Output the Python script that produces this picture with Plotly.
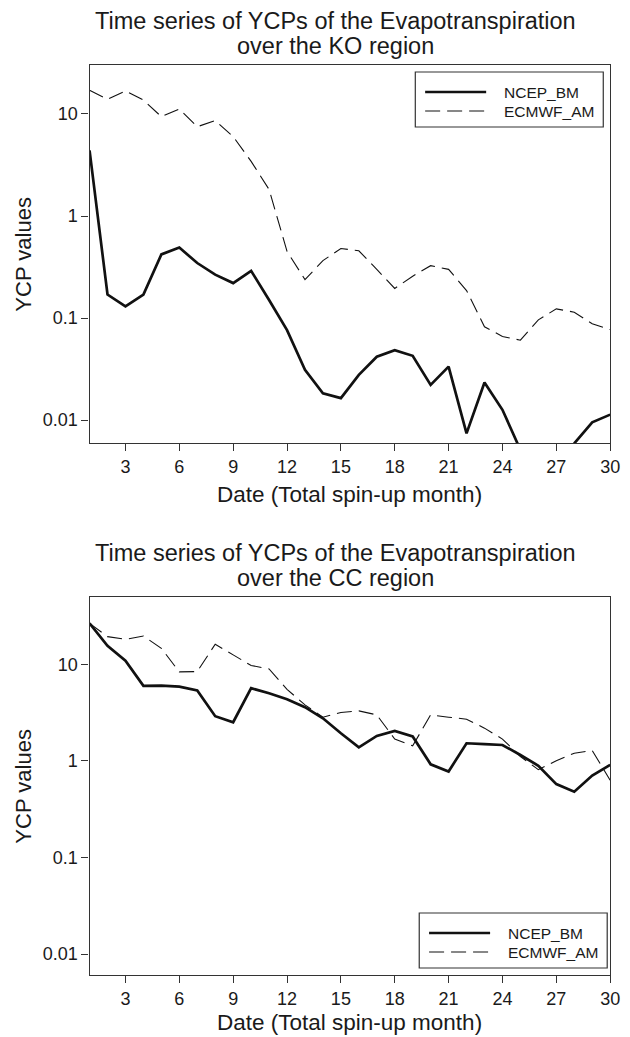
import plotly.graph_objects as go

months = list(range(1, 31))

ko_ncep = [4.4, 0.17, 0.13, 0.17, 0.42, 0.49, 0.346, 0.266, 0.22, 0.29,
           0.15, 0.076, 0.031, 0.0183, 0.0164, 0.0277, 0.0417, 0.0484, 0.0426, 0.0221,
           0.0334, 0.0074, 0.0233, 0.0126, 0.0051, 0.004, 0.004, 0.0059, 0.0095, 0.0113]
ko_ecmwf = [17.1, 13.9, 16.8, 13.7, 9.4, 11.2, 7.5, 8.6, 6.0, 3.43,
            1.82, 0.45, 0.238, 0.365, 0.48, 0.456, 0.30, 0.195, 0.257, 0.326,
            0.30, 0.186, 0.082, 0.066, 0.0606, 0.096, 0.123, 0.114, 0.088, 0.077]

cc_ncep = [26.5, 15.5, 10.9, 5.97, 6.0, 5.87, 5.35, 2.9, 2.51, 5.65,
           5.0, 4.35, 3.59, 2.76, 1.93, 1.38, 1.81, 2.04, 1.79, 0.92,
           0.776, 1.52, 1.49, 1.46, 1.15, 0.89, 0.574, 0.48, 0.705, 0.91]
cc_ecmwf = [26.5, 19.3, 18.1, 19.6, 14.6, 8.33, 8.4, 16.1, 12.5, 9.7,
            8.95, 5.5, 3.8, 2.83, 3.16, 3.29, 2.99, 1.68, 1.43, 2.99,
            2.83, 2.70, 2.18, 1.68, 1.11, 0.81, 1.0, 1.2, 1.28, 0.63]

series_names = ["NCEP_BM", "ECMWF_AM"]
x_ticks = [3, 6, 9, 12, 15, 18, 21, 24, 27, 30]
y_ticks = [0.01, 0.1, 1, 10]
y_ticktext = ["0.01", "0.1", "1", "10"]

titles = [["Time series of YCPs of the Evapotranspiration", "over the KO region"],
          ["Time series of YCPs of the Evapotranspiration", "over the CC region"]]
x_title = "Date (Total spin-up month)"
y_title = "YCP values"

W, H = 630, 1037
FONT = "Liberation Sans, Arial, Helvetica, sans-serif"
TXT = "#1a1a1a"
AX = "#333333"
LINE = "#111111"
SOLID = dict(color=LINE, width=2.7)
DASHED = dict(color=LINE, width=1.1, dash="15px,7px")


def px(x):
    return x / W


def py(y):
    return 1 - y / H


# frame geometry (pixels)
FL, FR = 91, 620
panels = [
    dict(top=65, bottom=443, yrange=[-2.225, 1.48], data=(ko_ncep, ko_ecmwf),
         legend=(422, 72), title_y=21, xtitle_y=494),
    dict(top=597, bottom=975, yrange=[-2.217, 1.696], data=(cc_ncep, cc_ecmwf),
         legend=(426, 913), title_y=553, xtitle_y=1022),
]

fig = go.Figure()
annotations = []
shapes = []

for i, p in enumerate(panels):
    sfx = "" if i == 0 else str(i + 1)
    xa, ya = "x" + sfx, "y" + sfx
    ncep, ecmwf = p["data"]
    fig.add_trace(go.Scatter(x=months, y=ncep, mode="lines", name=series_names[0],
                             line=SOLID, xaxis=xa, yaxis=ya, showlegend=False))
    fig.add_trace(go.Scatter(x=months, y=ecmwf, mode="lines", name=series_names[1],
                             line=DASHED, xaxis=xa, yaxis=ya, showlegend=False))

    common = dict(ticks="outside", ticklen=7, tickwidth=1, tickcolor=AX,
                  showline=True, linecolor=AX, linewidth=1.2, mirror=True,
                  showgrid=False, zeroline=False, ticklabeloverflow="allow",
                  tickfont=dict(family=FONT, size=18, color=TXT))
    fig.layout["xaxis" + sfx] = dict(domain=[px(FL), px(FR)], anchor=ya, range=[1, 30],
                                     tickvals=x_ticks, **common)
    fig.layout["yaxis" + sfx] = dict(domain=[py(p["bottom"]), py(p["top"])], anchor=xa,
                                     type="log", range=p["yrange"], tickvals=y_ticks,
                                     ticktext=y_ticktext, **common)

    # two-line title, each line placed separately
    for k, line in enumerate(titles[i]):
        annotations.append(dict(text=line, x=px(341), y=py(p["title_y"] + 25 * k),
                                xref="paper", yref="paper", xanchor="center",
                                yanchor="middle", showarrow=False,
                                font=dict(family=FONT, size=23.5, color=TXT)))
    annotations.append(dict(text=x_title, x=px((FL + FR) / 2), y=py(p["xtitle_y"]),
                            xref="paper", yref="paper", xanchor="center", yanchor="middle",
                            showarrow=False, font=dict(family=FONT, size=22.5, color=TXT)))
    annotations.append(dict(text=y_title, x=px(23), y=py((p["top"] + p["bottom"]) / 2),
                            xref="paper", yref="paper", xanchor="center", yanchor="middle",
                            textangle=-90, showarrow=False,
                            font=dict(family=FONT, size=22, color=TXT)))

    # legend box (drawn manually to match the long line samples)
    lx, ly = p["legend"]
    bw, bh = 191, 55
    shapes.append(dict(type="rect", xref="paper", yref="paper",
                       x0=px(lx), x1=px(lx + bw), y0=py(ly + bh), y1=py(ly),
                       line=dict(color=AX, width=1.2), fillcolor="white", layer="above"))
    for k, (name, st) in enumerate(zip(series_names, [SOLID, DASHED])):
        rowy = ly + 20 + k * 19
        shapes.append(dict(type="line", xref="paper", yref="paper",
                           x0=px(lx + 10), x1=px(lx + 72), y0=py(rowy), y1=py(rowy),
                           line=st, layer="above"))
        annotations.append(dict(text=name, x=px(lx + 88), y=py(rowy), xref="paper",
                                yref="paper", xanchor="left", yanchor="middle",
                                showarrow=False, font=dict(family=FONT, size=15.5, color=TXT)))

fig.update_layout(
    width=W, height=H,
    margin=dict(l=0, r=0, t=0, b=0),
    paper_bgcolor="white", plot_bgcolor="white",
    font=dict(family=FONT, color=TXT),
    showlegend=False,
    annotations=annotations,
    shapes=shapes,
)

fig.write_html("out.html", config={"displayModeBar": False},
               post_script="document.body.style.margin='0';document.body.style.overflow='hidden';")
